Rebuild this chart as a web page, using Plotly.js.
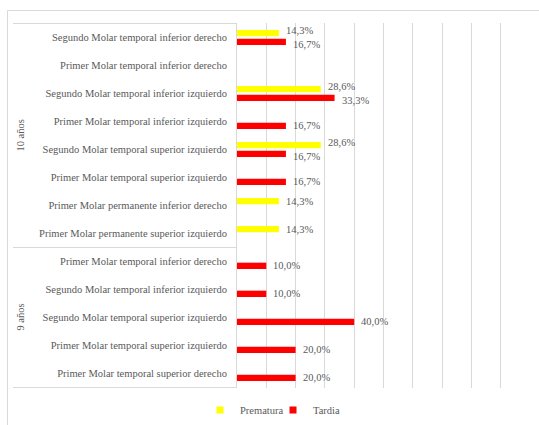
<!DOCTYPE html>
<html>
<head>
<meta charset="utf-8">
<script src="https://cdn.plot.ly/plotly-3.0.1.min.js"></script>
<style>html,body{margin:0;padding:0;background:#fff;}#chart{width:539px;height:425px;}</style>
</head>
<body>
<div id="chart"></div>
<script>
// Groups and their categories (top to bottom)
var groupNames = ["10 años", "9 años"];
var groupCategories = [
  ["Segundo Molar temporal inferior derecho",
   "Primer Molar temporal inferior derecho",
   "Segundo Molar temporal inferior izquierdo",
   "Primer Molar temporal inferior izquierdo",
   "Segundo Molar temporal superior izquierdo",
   "Primer Molar temporal superior izquierdo",
   "Primer Molar permanente inferior derecho",
   "Primer Molar permanente superior izquierdo"],
  ["Primer Molar temporal inferior derecho",
   "Segundo Molar temporal inferior izquierdo",
   "Segundo Molar temporal superior izquierdo",
   "Primer Molar temporal superior izquierdo",
   "Primer Molar temporal superior derecho"]
];
// Values in percent (null = no bar)
var prematura = [14.3, null, 28.6, null, 28.6, null, 14.3, 14.3,
                 null, null, null, null, null];
var tardia    = [16.7, null, 33.3, 16.7, 16.7, 16.7, null, null,
                 10.0, 10.0, 40.0, 20.0, 20.0];
var seriesNames = ["Prematura", "Tardia"];
var seriesColors = ["#FFFF00", "#FF0000"];

var keys = [], labels = [];
groupNames.forEach(function(g, gi){
  groupCategories[gi].forEach(function(c){ keys.push(g + "|" + c); labels.push(c); });
});
function fmt(v){ return v.toFixed(1).replace(".", ",") + "%"; }

var serif = "'Liberation Serif', 'Times New Roman', serif";
var gray = "#595959";
var lineGray = "#d9d9d9";
var BARGAP = 0.38, BARGROUPGAP = 0.27;

var series = [prematura, tardia];
var traces = series.map(function(vals, i){
  return {
    type: "bar", orientation: "h", name: seriesNames[i],
    y: keys, x: vals,
    marker: {color: seriesColors[i]}, showlegend: false, hoverinfo: "none"
  };
});
seriesNames.forEach(function(n, i){
  traces.push({type: "scatter", mode: "markers", name: n, x: [null], y: [null],
    marker: {symbol: "square", size: 7, color: seriesColors[i]}, hoverinfo: "none"});
});

// geometry helpers (pixels -> paper)
var L = 237, R = 9, T = 23, B = 37, W = 539, H = 425;
var pw = W - L - R, ph = H - T - B;
function px(x){ return (x - L) / pw; }
function py(y){ return (H - B - y) / ph; }

var shapes = [];
var boxLeft = px(13);
var bounds = [-0.5];
var acc = -0.5;
groupCategories.forEach(function(c){ acc += c.length; bounds.push(acc); });
bounds.forEach(function(b){
  shapes.push({type: "line", xref: "paper", yref: "y", x0: boxLeft, x1: 0, y0: b, y1: b,
    line: {color: lineGray, width: 1}});
});
shapes.push({type: "rect", xref: "paper", yref: "paper", x0: px(7.5), x1: px(560), y0: py(440), y1: py(10.5),
  line: {color: lineGray, width: 1}, fillcolor: "rgba(0,0,0,0)"});

var annotations = [];
var start = 0;
groupNames.forEach(function(g, gi){
  var n = groupCategories[gi].length;
  annotations.push({xref: "paper", yref: "y", x: px(20), y: start + (n - 1) / 2,
    text: g, textangle: -90, showarrow: false, xanchor: "center", yanchor: "middle",
    font: {family: serif, size: 10.5, color: gray}});
  start += n;
});

// data labels placed next to each bar end
var slotOffset = (1 - BARGAP) / 4;
keys.forEach(function(k, idx){
  var both = prematura[idx] != null && tardia[idx] != null;
  series.forEach(function(vals, si){
    var v = vals[idx];
    if (v == null) return;
    var dir = si === 0 ? -1 : 1;
    annotations.push({xref: "x", yref: "y", x: v, y: idx + dir * slotOffset,
      text: fmt(v), showarrow: false, xanchor: "left", yanchor: "middle",
      xshift: 6, yshift: both ? -dir * 2.5 : 0, borderpad: 0,
      font: {family: serif, size: 10.5, color: gray}});
  });
});

var layout = {
  width: W, height: H,
  margin: {l: L, r: R, t: T, b: B, pad: 0, autoexpand: false},
  paper_bgcolor: "#fff", plot_bgcolor: "#fff",
  barmode: "group", bargap: BARGAP, bargroupgap: BARGROUPGAP,
  font: {family: serif, color: gray},
  xaxis: {range: [0, 100], dtick: 10, showticklabels: false, showgrid: true,
    gridcolor: lineGray, zeroline: false, showline: false, fixedrange: true},
  yaxis: {type: "category", autorange: "reversed", tickvals: keys, ticktext: labels,
    showgrid: false, showline: true, linecolor: lineGray, ticks: "", ticklabelstandoff: 7,
    tickfont: {family: serif, size: 10.5, color: gray}, fixedrange: true},
  showlegend: true,
  legend: {orientation: "h", x: px(200), xanchor: "left", y: py(410), yanchor: "middle",
    font: {family: serif, size: 10.5, color: gray}, itemwidth: 30, tracegroupgap: 0,
    entrywidth: 28, entrywidthmode: "pixels"},
  shapes: shapes, annotations: annotations
};

Plotly.newPlot("chart", traces, layout, {staticPlot: true, displayModeBar: false});
</script>
</body>
</html>
